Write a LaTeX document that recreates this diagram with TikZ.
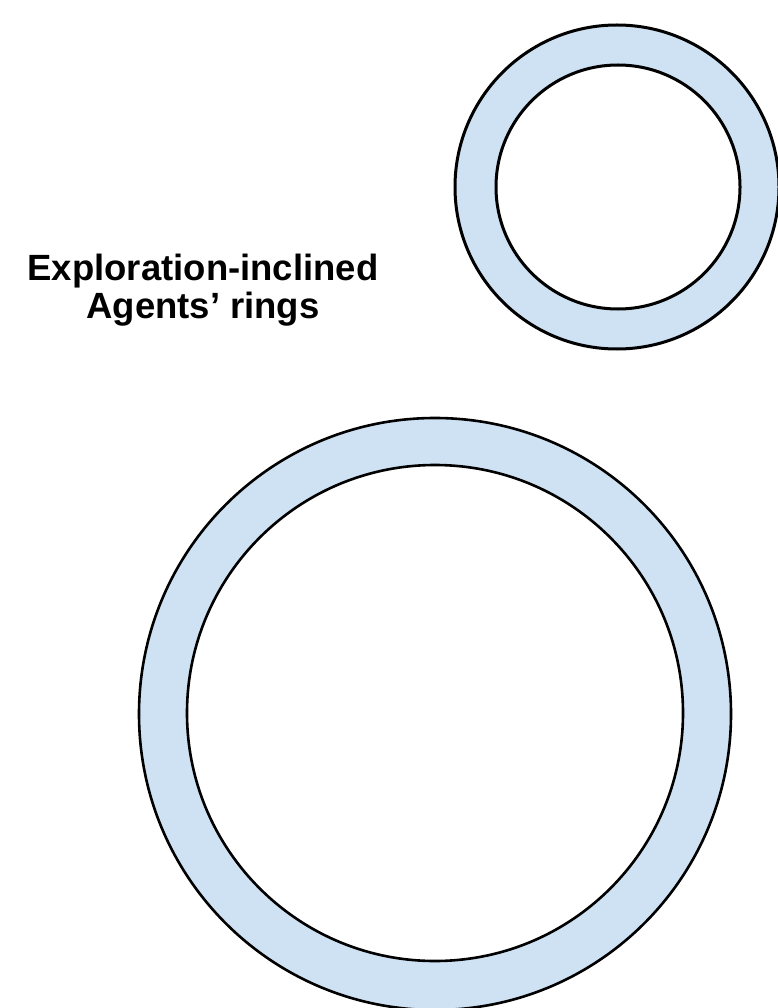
\documentclass[tikz,border=0pt]{standalone}
\usepackage{fontspec}
\setmainfont{Liberation Sans}
\definecolor{ringblue}{HTML}{CFE2F3}
\begin{document}
\begin{tikzpicture}[x=1pt,y=-1pt,
  ringouter/.style={draw=black,fill=ringblue,line width=3pt},
  ringinner/.style={draw=black,fill=white,line width=3pt},
  label/.style={font=\fontsize{36.5}{38}\selectfont\bfseries,align=center,inner sep=0pt}]
\useasboundingbox (0,0) rectangle (778,1008);
\clip (0,0) rectangle (778,1008);
\fill[white] (0,0) rectangle (778,1008);
% small ring
\draw[ringouter] (617,187) circle[radius=162];
\draw[ringinner] (618,187) circle[radius=122];
% large ring
\draw[ringouter,line width=2.6pt] (435,714) circle[radius=296];
\draw[ringinner,line width=2.6pt] (435,713) circle[radius=248];
% label
\node[label] (lbl) at (203,290) {Exploration-inclined\\Agents’ rings};
\end{tikzpicture}
\end{document}
